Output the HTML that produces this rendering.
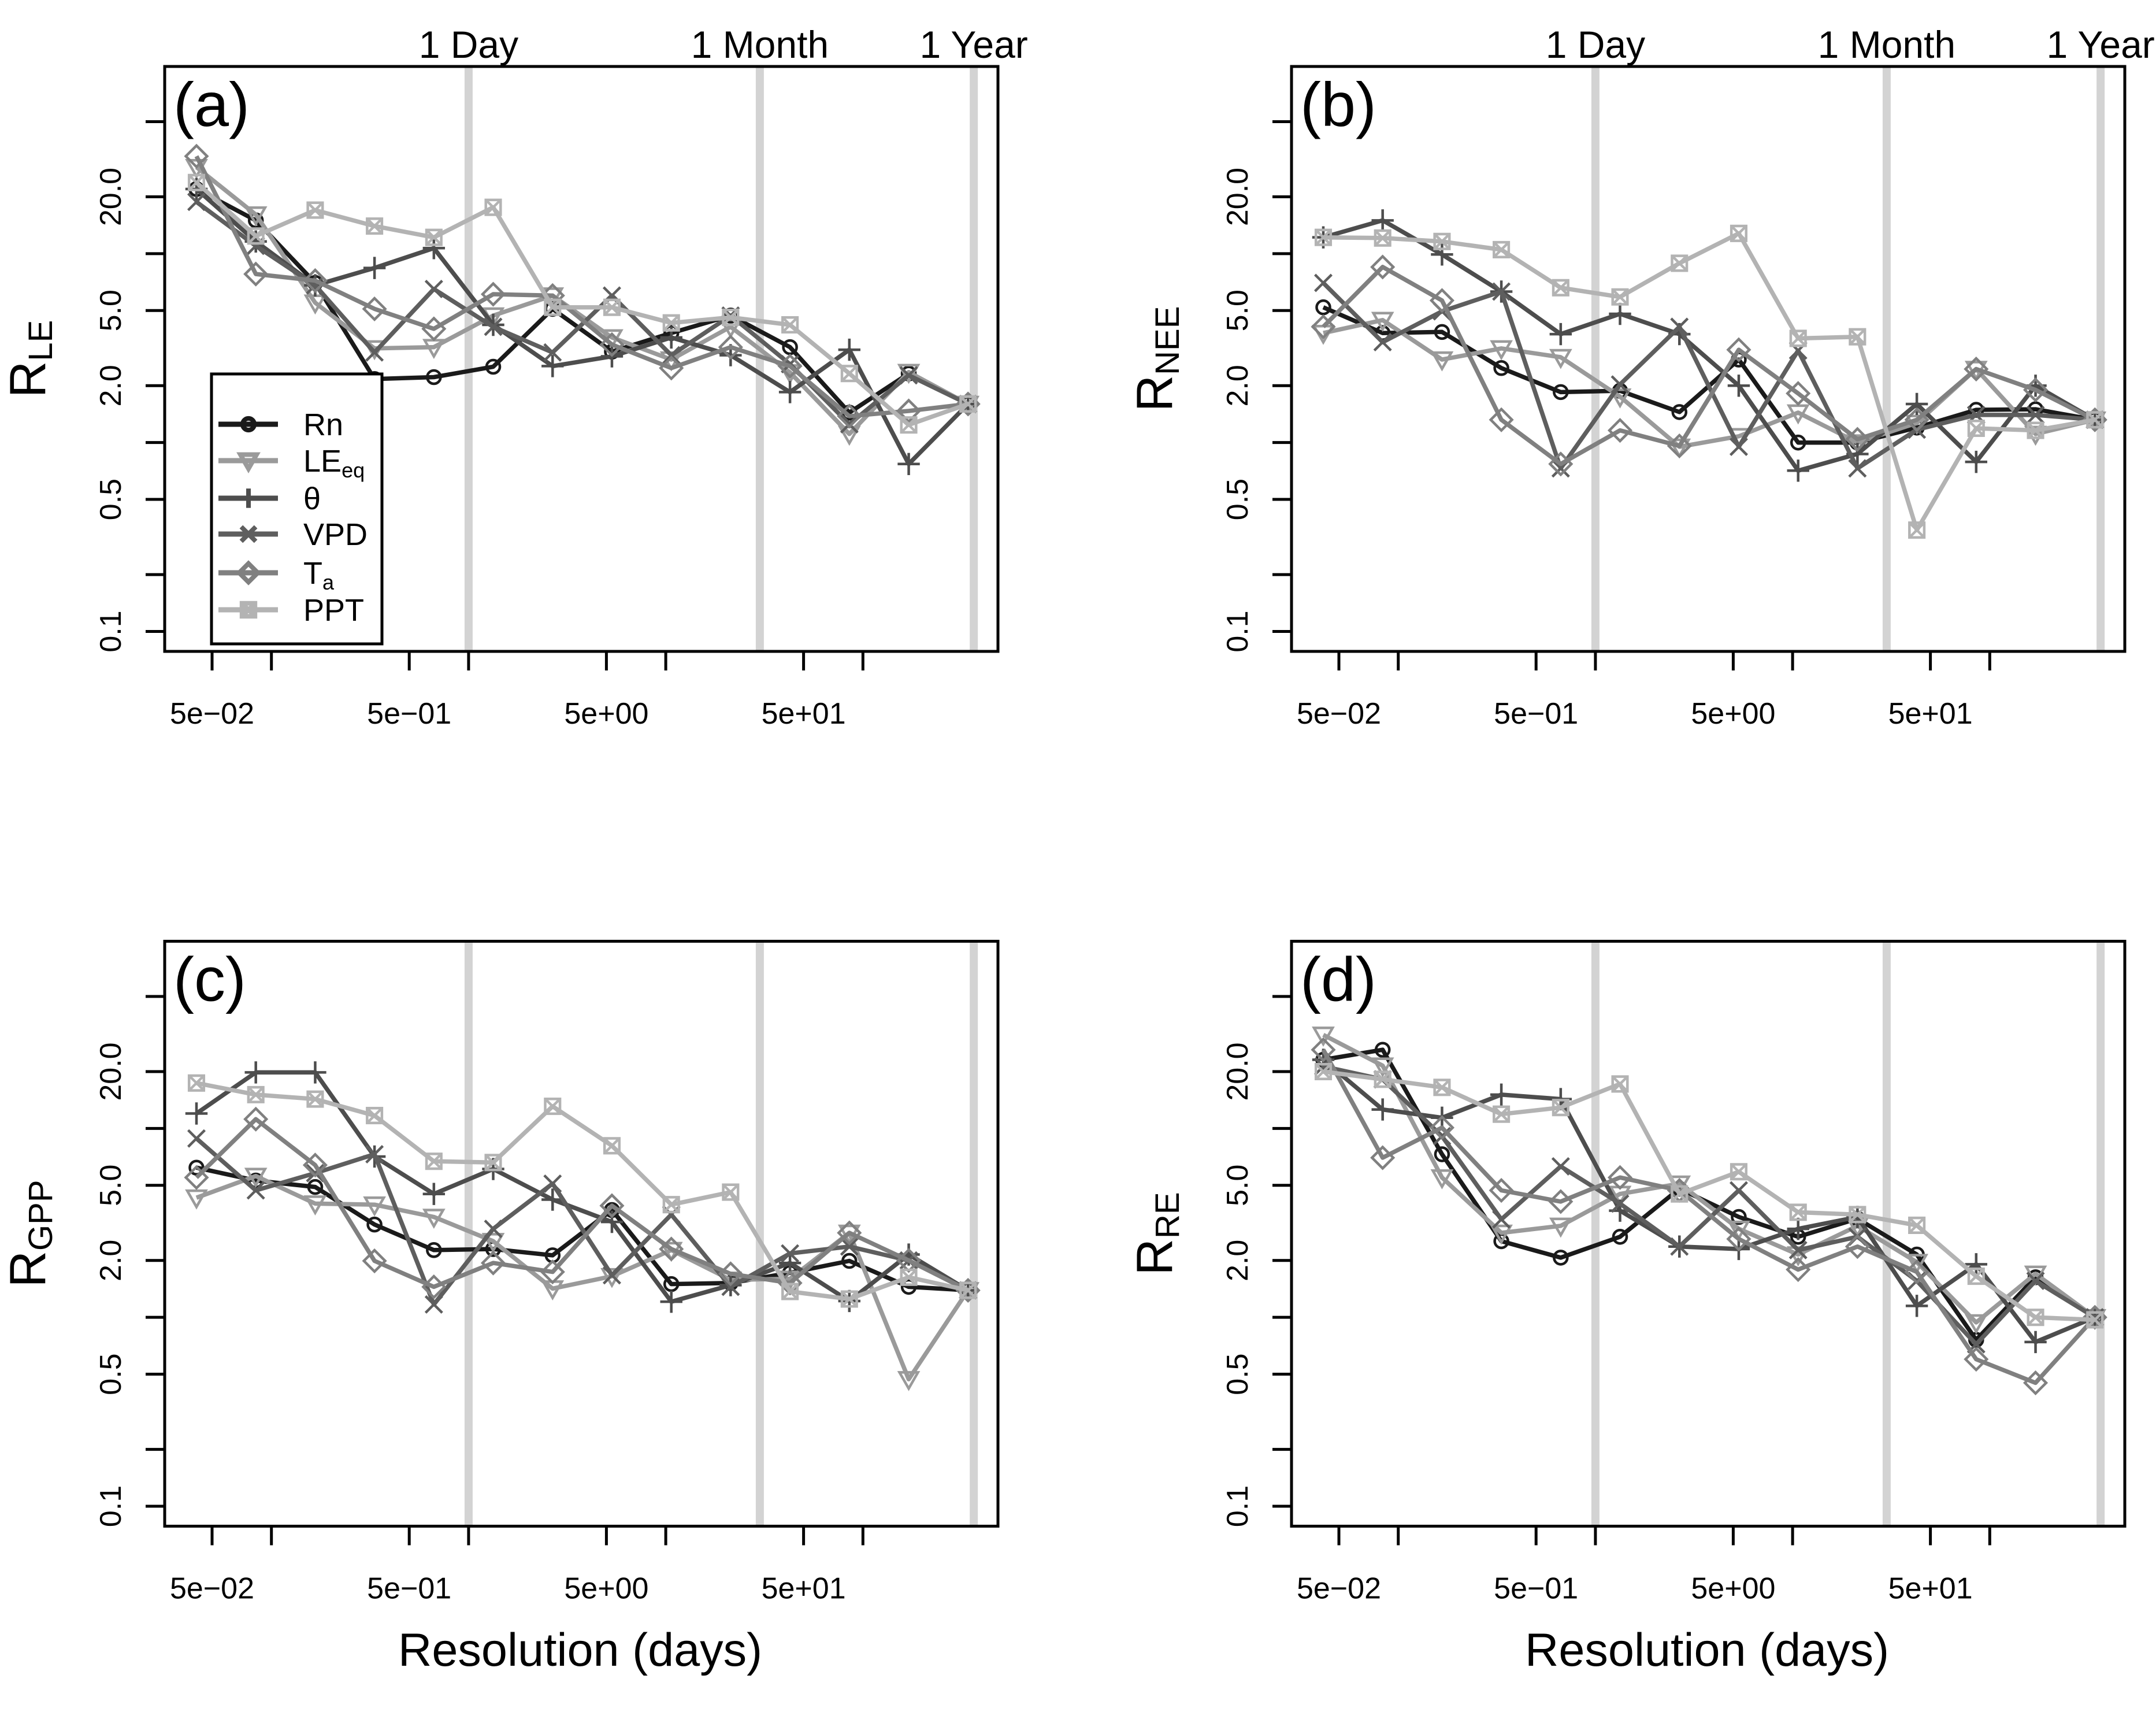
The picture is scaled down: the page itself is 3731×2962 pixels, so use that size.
<!DOCTYPE html>
<html><head><meta charset="utf-8"><title>R by resolution</title>
<style>
html,body{margin:0;padding:0;background:#fff;}
svg{display:block;font-family:"Liberation Sans",Arial,sans-serif;}
</style></head>
<body>
<svg id="fig" width="3731" height="2962" viewBox="0 0 3731 2962" xmlns="http://www.w3.org/2000/svg">
<rect x="0" y="0" width="3731" height="2962" fill="#fff"/>
<text x="1004" y="2882" font-size="81" text-anchor="middle">Resolution (days)</text>
<text x="2954" y="2882" font-size="81" text-anchor="middle">Resolution (days)</text>
</svg>
<script>
// Shared categories: resolution (days)
const resolution = [0.04167,0.08333,0.1667,0.3333,0.6667,1.333,2.667,5.333,10.67,21.33,42.67,85.33,170.7,341.3];
const seriesNames = ["Rn","LEeq","θ","VPD","Ta","PPT"];
const xTicks = [0.05,0.1,0.5,1,5,10,50,100];
const xTickLabels = ["5e-02","","5e-01","","5e+00","","5e+01",""];
const yTicks = [50,20,10,5,2,1,0.5,0.2,0.1];
const yTickLabelsFull = ["","20.0","","5.0","2.0","","0.5","","0.1"];
const refLines = [1,30,365];
const refLabels = ["1 Day","1 Month","1 Year"];

// Panel (a) R_LE
const a_Rn   = [22,15,7,2.17,2.22,2.52,5.1,3.03,3.8,4.7,3.2,1.44,2.32,1.6];
const a_LEeq = [28.7,16.1,5.5,3.15,3.2,4.7,6.0,3.6,2.75,4.1,2.35,1.11,2.36,1.6];
const a_th   = [22,11.6,6.8,8.4,10.7,4.2,2.54,2.86,3.6,2.9,1.85,3.1,0.77,1.6];
const a_VPD  = [18.8,11,6.8,3.0,6.5,4.1,3.0,6.0,2.9,4.7,2.6,1.25,2.27,1.6];
const a_Ta   = [32.8,7.8,7.2,5.1,4.0,6.1,6.0,3.3,2.48,3.2,2.54,1.38,1.47,1.6];
const a_PPT  = [23.8,12.4,17,14,12.2,17.6,5.2,5.2,4.3,4.6,4.2,2.32,1.24,1.6];
// Panel (b) R_NEE
const b_Rn   = [5.2,3.8,3.85,2.48,1.85,1.88,1.45,2.75,1.0,1.0,1.2,1.49,1.5,1.32];
const b_LEeq = [3.8,4.45,2.75,3.15,2.83,1.75,0.95,1.08,1.44,1.0,1.27,2.45,1.11,1.32];
const b_th   = [12.2,15,9.9,6.3,3.75,4.8,3.75,2.0,0.71,0.87,1.6,0.79,2.0,1.32];
const b_VPD  = [7,3.4,4.95,6.3,0.73,2.03,4.1,0.95,3.07,0.73,1.17,1.4,1.4,1.32];
const b_Ta   = [4.1,8.5,5.65,1.32,0.77,1.16,0.96,3.1,1.82,1.04,1.32,2.45,1.9,1.32];
const b_PPT  = [12.2,12.1,11.6,10.5,6.6,5.9,8.9,12.8,3.56,3.63,0.344,1.19,1.16,1.32];
// Panel (c) R_GPP
const c_Rn   = [6.2,5.3,4.9,3.1,2.27,2.3,2.13,3.7,1.5,1.52,1.72,1.99,1.45,1.39];
const c_LEeq = [4.3,5.6,4.0,3.95,3.4,2.53,1.42,1.65,2.27,1.58,1.6,2.8,0.47,1.39];
const c_th   = [12,19.8,19.8,7.1,4.5,6.1,4.2,3.2,1.21,1.48,1.94,1.22,2.15,1.39];
const c_VPD  = [8.85,4.7,5.8,7.3,1.17,2.94,5.1,1.67,3.5,1.45,2.18,2.37,2.0,1.39];
const c_Ta   = [5.5,11.2,6.4,1.99,1.45,1.94,1.74,3.9,2.3,1.7,1.52,2.8,2.0,1.39];
const c_PPT  = [17.4,15.1,14.3,11.7,6.7,6.6,13.1,8.1,3.95,4.6,1.37,1.25,1.63,1.39];
// Panel (d) R_RE
const d_Rn   = [23.1,26.1,7.3,2.53,2.07,2.67,4.8,3.4,2.67,3.33,2.15,0.76,1.63,1.0];
const d_LEeq = [31.3,21.5,5.5,2.8,3.05,4.5,5.1,2.94,2.15,3.05,1.96,0.94,1.7,1.0];
const d_th   = [23.1,12.6,11.4,15.1,14.3,3.67,2.37,2.3,2.94,3.4,1.15,1.91,0.74,1.0];
const d_VPD  = [21.3,18.2,9.1,3.3,6.3,4.0,2.37,4.7,2.27,2.67,1.56,0.72,1.56,1.0];
const d_Ta   = [26.1,7.0,10.1,4.7,4.1,5.5,4.7,2.6,1.79,2.37,1.74,0.6,0.45,1.0];
const d_PPT  = [20,18.2,16.5,11.9,12.9,17.2,4.5,5.9,3.6,3.5,3.07,1.65,1.0,0.97];

const NS = "http://www.w3.org/2000/svg";
const svg = document.getElementById("fig");
const colors = ["#1a1a1a","#9a9a9a","#4d4d4d","#5e5e5e","#808080","#b3b3b3"];
const shapes = ["circle","tri","plus","cross","diamond","sqx"];

function mk(tag, attrs, parent){
  const e = document.createElementNS(NS, tag);
  for (const k in attrs) e.setAttribute(k, attrs[k]);
  (parent||svg).appendChild(e);
  return e;
}
function marker(g, shape, cx, cy, col, sw, s){
  let e;
  if (shape==="circle") e = mk("circle",{cx:cx,cy:cy,r:s*0.72,fill:"none",stroke:col,"stroke-width":sw},g);
  else if (shape==="tri") e = mk("path",{d:`M${cx-s},${cy-s*0.75}L${cx+s},${cy-s*0.75}L${cx},${cy+s}Z`,fill:"none",stroke:col,"stroke-width":sw},g);
  else if (shape==="plus") e = mk("path",{d:`M${cx-s*1.2},${cy}H${cx+s*1.2}M${cx},${cy-s*1.2}V${cy+s*1.2}`,fill:"none",stroke:col,"stroke-width":sw},g);
  else if (shape==="cross") e = mk("path",{d:`M${cx-s*0.9},${cy-s*0.9}L${cx+s*0.9},${cy+s*0.9}M${cx-s*0.9},${cy+s*0.9}L${cx+s*0.9},${cy-s*0.9}`,fill:"none",stroke:col,"stroke-width":sw},g);
  else if (shape==="diamond") e = mk("path",{d:`M${cx},${cy-s*1.15}L${cx+s*1.15},${cy}L${cx},${cy+s*1.15}L${cx-s*1.15},${cy}Z`,fill:"none",stroke:col,"stroke-width":sw},g);
  else e = mk("path",{d:`M${cx-s*0.8},${cy-s*0.8}h${s*1.6}v${s*1.6}h${-s*1.6}Z M${cx-s*0.8},${cy-s*0.8}L${cx+s*0.8},${cy+s*0.8}M${cx-s*0.8},${cy+s*0.8}L${cx+s*0.8},${cy-s*0.8}`,fill:"none",stroke:col,"stroke-width":sw},g);
  return e;
}

function drawPanel(ox, oy, letter, sub, data, legend, key, topLabels){
  const g = mk("g",{});
  
  
  const L = 285+ox, R = 1727+ox, T = 115+oy, B = 1127+oy;
  const xs = v => 367 + ox + Math.log10(v/0.05)*341.2;
  const ys = v => 340.5 + oy - Math.log10(v/20)*326.8;
  refLines.forEach((d,i)=>{
    const ln = mk("line",{x1:xs(d),x2:xs(d),y1:T,y2:B,stroke:"#d3d3d3","stroke-width":14},g);
    
    
    if (topLabels){
      const t = mk("text",{x:xs(d),y:100+oy,"font-size":66,"text-anchor":"middle"},g);
      t.textContent = refLabels[i];
      
      
    }
  });
  data.forEach((vals, si)=>{
    const sg = mk("g",{},g);
    
    
    const pts = vals.map((v,i)=>xs(resolution[i]).toFixed(1)+","+ys(v).toFixed(1)).join(" ");
    const pl = mk("polyline",{points:pts,fill:"none",stroke:colors[si],"stroke-width":7.5,"stroke-linejoin":"round"},sg);
    
    
    vals.forEach((v,i)=>{
      const m = marker(sg, shapes[si], xs(resolution[i]), ys(v), colors[si], 4.5, 16);
      
      
    });
  });
  const box = mk("rect",{x:L,y:T,width:R-L,height:B-T,fill:"none",stroke:"#000","stroke-width":5},g);
  
  
  xTicks.forEach((v,i)=>{
    const tk = mk("line",{x1:xs(v),x2:xs(v),y1:B,y2:B+33,stroke:"#000","stroke-width":5},g);
    
    
    if (xTickLabels[i]){
      const t = mk("text",{x:xs(v),y:B+125,"font-size":52,"text-anchor":"middle"},g);
      t.textContent = xTickLabels[i].replace("-","−");
      
      
    }
  });
  yTicks.forEach((v,i)=>{
    const tk = mk("line",{x1:L-33,x2:L,y1:ys(v),y2:ys(v),stroke:"#000","stroke-width":5},g);
    
    
    const lab = yTickLabelsFull[i];
    if (lab){
      const t = mk("text",{x:0,y:0,"font-size":52,"text-anchor":"middle",transform:`translate(${209+ox},${ys(v)}) rotate(-90)`},g);
      t.textContent = lab;
      
      
    }
  });
  const yt = mk("text",{x:0,y:0,"font-size":88,"text-anchor":"middle",transform:`translate(${78+ox},${621+oy}) rotate(-90)`},g);
  
  
  yt.appendChild(document.createTextNode("R"));
  const ts = mk("tspan",{"font-size":58,dy:12},yt);
  ts.textContent = sub;
  const pl = mk("text",{x:300+ox,y:218+oy,"font-size":108},g);
  pl.textContent = "(" + letter + ")";
  
  
  if (legend){
    const lg = mk("g",{},g);
    
    
    const lb = mk("rect",{x:366,y:647,width:295,height:467,fill:"#fff",stroke:"#000","stroke-width":5},lg);
    
    
    const rowY = [734,797,862,924,991,1055];
    seriesNames.forEach((n,si)=>{
      const eg = mk("g",{},lg);
      
      
      mk("line",{x1:378,x2:481,y1:rowY[si],y2:rowY[si],stroke:colors[si],"stroke-width":9},eg);
      marker(eg, shapes[si], 430, rowY[si], colors[si], 8, 14);
      const t = mk("text",{x:525,y:rowY[si]+19,"font-size":54},eg);
      if (n==="LEeq"){ t.appendChild(document.createTextNode("LE")); const s=mk("tspan",{"font-size":36,dy:10},t); s.textContent="eq"; }
      else if (n==="Ta"){ t.appendChild(document.createTextNode("T")); const s=mk("tspan",{"font-size":36,dy:10},t); s.textContent="a"; }
      else t.textContent = n;
    });
  }
}
drawPanel(0,0,"a","LE",[a_Rn,a_LEeq,a_th,a_VPD,a_Ta,a_PPT],true,"a",true);
drawPanel(1950,0,"b","NEE",[b_Rn,b_LEeq,b_th,b_VPD,b_Ta,b_PPT],false,"b",true);
drawPanel(0,1513.5,"c","GPP",[c_Rn,c_LEeq,c_th,c_VPD,c_Ta,c_PPT],false,"c",false);
drawPanel(1950,1513.5,"d","RE",[d_Rn,d_LEeq,d_th,d_VPD,d_Ta,d_PPT],false,"d",false);
</script>
</body></html>
